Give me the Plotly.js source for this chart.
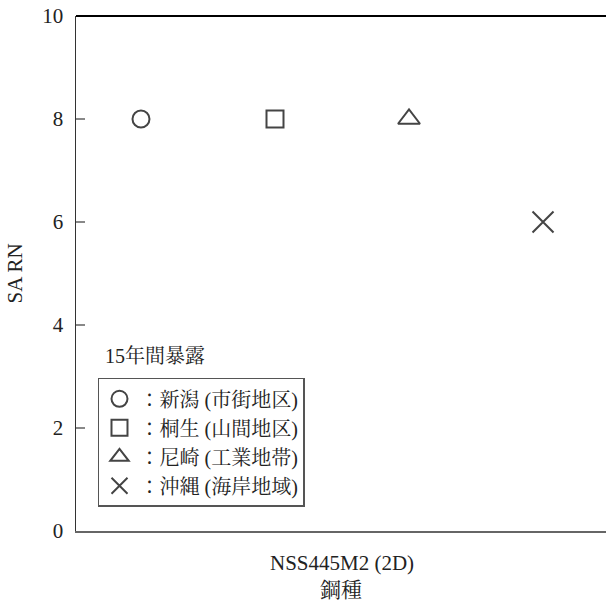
<!DOCTYPE html>
<html>
<head>
<meta charset="utf-8">
<script src="https://cdn.plot.ly/plotly-3.0.1.min.js"></script>
<style>html,body{margin:0;padding:0;background:#fff;}#chart{width:606px;height:604px;}</style>
</head>
<body>
<div id="chart"></div>
<script>
const steelType = 'NSS445M2 (2D)';
const sites = ['新潟 (市街地区)', '桐生 (山間地区)', '尼崎 (工業地帯)', '沖縄 (海岸地域)'];
const siteIndex = [0, 1, 2, 3];
const saRN = [8, 8, 8, 6];
const symbols = ['circle-open', 'square-open', 'triangle-up-open', 'x-thin-open'];
const sizes = [17, 17, 19, 21];
const yTicks = [0, 2, 4, 6, 8, 10];

const FONT = 'Liberation Serif, Noto Serif CJK JP, Noto Sans CJK JP, serif';
const MK = '#444';

const traces = sites.map((s, i) => ({
  type: 'scatter',
  mode: 'markers',
  x: [siteIndex[i]],
  y: [saRN[i]],
  name: '：' + s,
  marker: {symbol: symbols[i], size: sizes[i], color: MK, line: {color: MK, width: 2}},
  hoverinfo: 'skip'
}));

const layout = {
  width: 606, height: 604,
  margin: {l: 76, r: 0, t: 16, b: 73},
  paper_bgcolor: '#fff', plot_bgcolor: '#fff',
  font: {family: FONT, size: 21, color: '#222'},
  showlegend: true,
  legend: {
    x: 0.0415, y: 0.047, xanchor: 'left', yanchor: 'bottom',
    bgcolor: '#fff', bordercolor: '#555', borderwidth: 1.5,
    font: {family: FONT, size: 20, color: '#222'},
    itemwidth: 30, tracegroupgap: 0
  },
  xaxis: {
    range: [-0.485, 3.47],
    showgrid: false, zeroline: false,
    showline: true, linecolor: '#666', linewidth: 2,
    tickvals: [1.5], ticktext: [steelType], ticks: '',
    ticklabelstandoff: 12,
    tickfont: {family: FONT, size: 21, color: '#222'},
    title: {text: '鋼種', font: {family: FONT, size: 21, color: '#222'}, standoff: 8},
    fixedrange: true
  },
  yaxis: {
    range: [0, 10],
    tickvals: yTicks,
    showgrid: false, zeroline: false,
    showline: true, linecolor: '#333', linewidth: 1.5,
    ticks: 'inside', ticklen: 9, tickwidth: 1.5, tickcolor: '#888',
    ticklabelstandoff: 7,
    tickfont: {family: FONT, size: 21, color: '#222'},
    title: {text: 'SA RN', font: {family: FONT, size: 21, color: '#222'}, standoff: 14},
    fixedrange: true
  },
  shapes: [
    {type: 'line', xref: 'paper', yref: 'paper', x0: 0, x1: 1, y0: 1, y1: 1, line: {color: '#000', width: 2}}
  ],
  annotations: [
    {xref: 'paper', yref: 'paper', x: 0.05, y: 0.34, xanchor: 'left', yanchor: 'middle',
     text: '15年間暴露', showarrow: false, font: {family: FONT, size: 20, color: '#222'}}
  ]
};

Plotly.newPlot('chart', traces, layout, {displayModeBar: false, staticPlot: true});
</script>
</body>
</html>
